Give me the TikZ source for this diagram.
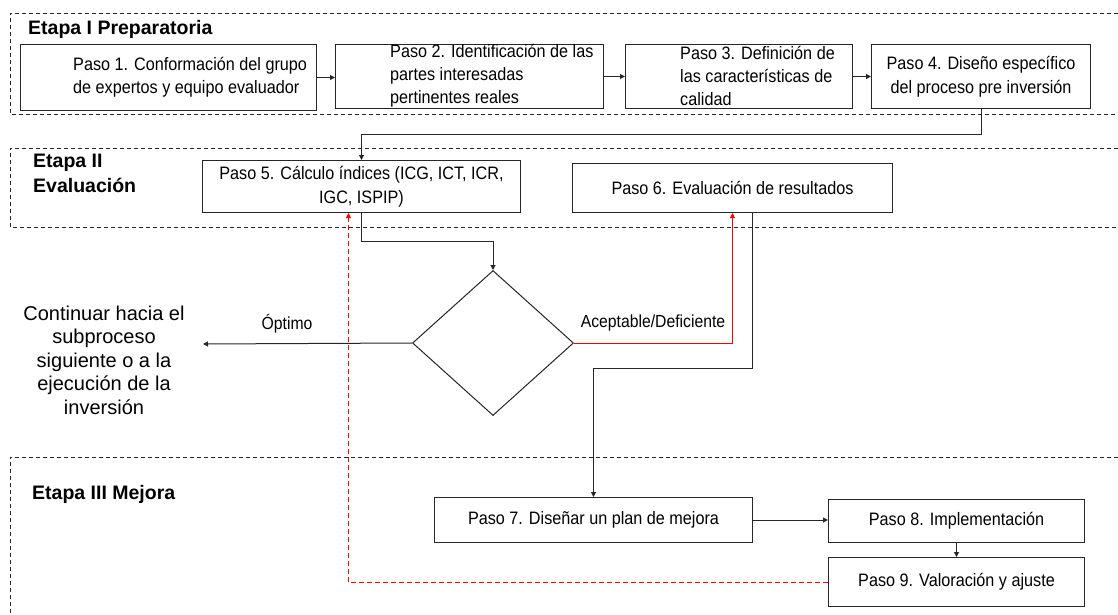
\documentclass[tikz,border=0pt]{standalone}
\usepackage{fontspec}
\setmainfont{Liberation Sans}
\newfontfamily\narrowfont{Liberation Sans}[FakeStretch=0.9]
\usetikzlibrary{arrows.meta,shapes.geometric}

\begin{document}
\begin{tikzpicture}[x=1pt,y=-1pt,
  stage/.style={draw=black!85, line width=0.8pt, dash pattern=on 4pt off 3pt},
  stepbox/.style={draw=black!85, line width=1pt, inner sep=0pt, anchor=north west},
  steptext/.style={font=\narrowfont\fontsize{18}{23}\selectfont, inner sep=0pt, align=left},
  centertext/.style={font=\narrowfont\fontsize{18}{23.5}\selectfont, inner sep=0pt, align=center},
  smalltext/.style={font=\narrowfont\fontsize{17.5}{20}\selectfont, inner sep=0pt},
  stagetitle/.style={font=\bfseries\fontsize{19.5}{25}\selectfont, inner sep=0pt, anchor=west, align=left},
  flow/.style={draw=black!85, line width=1pt, -{Triangle[length=5pt,width=5pt]}},
  redflow/.style={draw=red, line width=1pt, -{Triangle[length=5pt,width=5pt]}},
  reddash/.style={redflow, dash pattern=on 5pt off 3pt}]

\useasboundingbox (0,0) rectangle (1118,615);
\fill[white] (0,0) rectangle (1118,615);

% stage frames
\draw[stage] (1118,13) -- (10,13) -- (10,114) -- (1118,114);
\draw[stage] (1118,148) -- (10,148) -- (10,227) -- (1118,227);
\draw[stage] (1118,457) -- (10,457) -- (10,615);

% stage titles
\node[stagetitle] (s1) at (28,29) {Etapa I Preparatoria};
\node[stagetitle] (s2) at (33,173) {Etapa II\\Evaluación};
\node[stagetitle] (s3) at (32,494) {Etapa III Mejora};

% stage I steps
\node[stepbox, minimum width=296pt, minimum height=66pt] (b1) at (20,44) {};
\node[steptext, anchor=west] (t1) at (73,77) {Paso 1. Conformación del grupo\\de expertos y equipo evaluador};
\node[stepbox, minimum width=268pt, minimum height=64pt] (b2) at (335,44) {};
\node[steptext, anchor=west] (t2) at (390,76) {Paso 2. Identificación de las\\partes interesadas\\pertinentes reales};
\node[stepbox, minimum width=227pt, minimum height=64pt] (b3) at (625,44) {};
\node[steptext, anchor=west] (t3) at (680,76) {Paso 3. Definición de\\las características de\\calidad};
\node[stepbox, minimum width=219pt, minimum height=64pt, centertext] (b4) at (871,44) {Paso 4. Diseño específico\\del proceso pre inversión};

% stage II steps
\node[stepbox, minimum width=318pt, minimum height=52pt, centertext] (b5) at (202,160) {Paso 5. Cálculo índices (ICG, ICT, ICR,\\IGC, ISPIP)};
\node[stepbox, minimum width=320pt, minimum height=49pt, centertext] (b6) at (572,163) {Paso 6. Evaluación de resultados};

% decision
\node[draw=black!85, line width=1pt, diamond, aspect=1.11, inner sep=0pt,
      minimum width=161pt, minimum height=145pt] (d) at (493,343) {};
\coordinate (cont) at (203,344);
\node[font=\fontsize{20}{23.5}\selectfont, align=center, inner sep=0pt] (next) at (104,360)
  {Continuar hacia el\\subproceso\\siguiente o a la\\ejecución de la\\inversión};
\node[smalltext] (lopt) at (287,324) {Óptimo};
\node[smalltext] (lacc) at (653,323) {Aceptable/Deficiente};

% stage III steps
\node[stepbox, minimum width=318pt, minimum height=45pt, centertext] (b7) at (434,497) {Paso 7. Diseñar un plan de mejora};
\node[stepbox, minimum width=256pt, minimum height=43pt, centertext] (b8) at (828,499) {Paso 8. Implementación};
\node[stepbox, minimum width=256pt, minimum height=49pt, centertext] (b9) at (828,557) {Paso 9. Valoración y ajuste};

% connectors
\draw[flow] (b1.east) -- (b1.east -| b2.west);
\draw[flow] (b2.east) -- (b2.east -| b3.west);
\draw[flow] (b3.east) -- (b3.east -| b4.west);
\draw[flow] (b4.south) -- ++(0,25) -| (b5.north);
\draw[flow] (b5.south) -- ++(0,28) -| (d.north);
\draw[flow] (d.west) -- (cont);
\draw[redflow] (d.east) -| (b6.south);
\draw[flow] ([xshift=20pt]b6.south) -- ++(0,155) -| (b7.north);
\draw[flow] (b7.east) -- (b7.east -| b8.west);
\draw[flow] (b8.south) -- (b9.north);
\draw[reddash] (b9.west) -| ([xshift=-13pt]b5.south);
\end{tikzpicture}
\end{document}
